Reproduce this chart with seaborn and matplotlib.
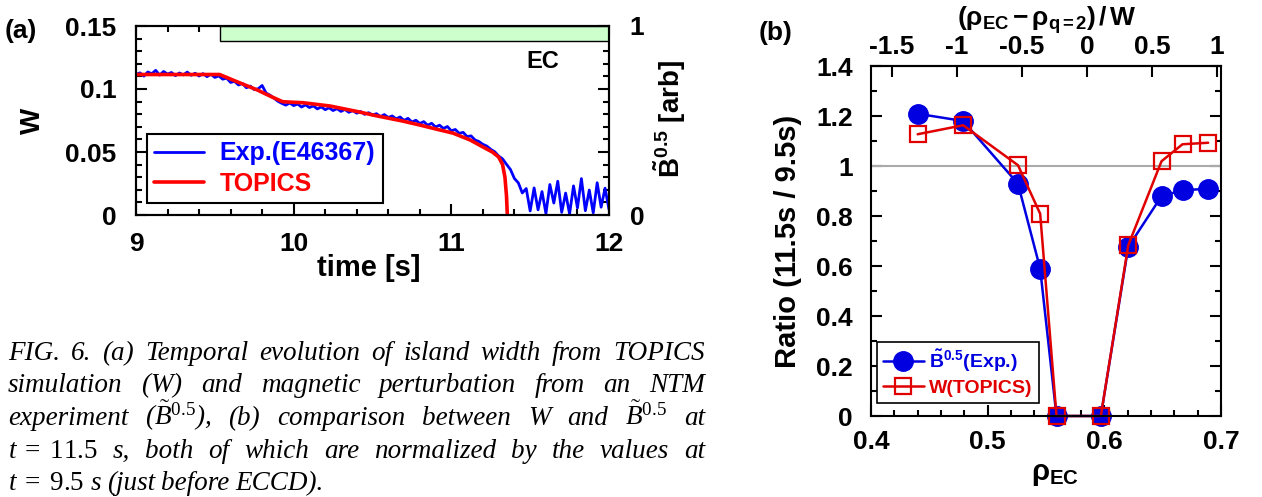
import numpy as np
import seaborn as sns
import matplotlib.pyplot as plt
from matplotlib.ticker import MultipleLocator, FuncFormatter

# --- (a) island width vs time
t_exp = [
    9.000, 9.025, 9.050, 9.075, 9.100, 9.125, 9.150, 9.175, 9.200, 9.225,
    9.250, 9.275, 9.300, 9.325, 9.350, 9.375, 9.400, 9.425, 9.450, 9.475,
    9.500, 9.525, 9.550, 9.575, 9.600, 9.625, 9.650, 9.675, 9.700, 9.725,
    9.750, 9.775, 9.800, 9.825, 9.850, 9.875, 9.900, 9.925, 9.950, 9.975,
    10.000, 10.025, 10.050, 10.075, 10.100, 10.125, 10.150, 10.175, 10.200, 10.225,
    10.250, 10.275, 10.300, 10.325, 10.350, 10.375, 10.400, 10.425, 10.450, 10.475,
    10.500, 10.525, 10.550, 10.575, 10.600, 10.625, 10.650, 10.675, 10.700, 10.725,
    10.750, 10.775, 10.800, 10.825, 10.850, 10.875, 10.900, 10.925, 10.950, 10.975,
    11.000, 11.025, 11.050, 11.075, 11.100, 11.125, 11.150, 11.175, 11.200, 11.225,
    11.250, 11.275, 11.300, 11.325, 11.350, 11.375, 11.400, 11.425, 11.450, 11.475,
    11.500, 11.525, 11.550, 11.575, 11.600, 11.625, 11.650, 11.675, 11.700, 11.725,
    11.750, 11.775, 11.800, 11.825, 11.850, 11.875, 11.900, 11.925, 11.950, 11.975,
    12.000]
w_exp = [
    0.1115, 0.1128, 0.1102, 0.1135, 0.1121, 0.1148, 0.1110, 0.1139, 0.1118, 0.1131,
    0.1106, 0.1127, 0.1112, 0.1134, 0.1109, 0.1125, 0.1103, 0.1122, 0.1098, 0.1117,
    0.1092, 0.1104, 0.1078, 0.1086, 0.1052, 0.1061, 0.1032, 0.1044, 0.1010, 0.1023,
    0.0995, 0.1002, 0.1028, 0.0968, 0.0951, 0.0927, 0.0903, 0.0886, 0.0872, 0.0889,
    0.0868, 0.0881, 0.0857, 0.0874, 0.0853, 0.0866, 0.0842, 0.0858, 0.0836, 0.0851,
    0.0829, 0.0844, 0.0822, 0.0838, 0.0815, 0.0829, 0.0808, 0.0821, 0.0799, 0.0812,
    0.0793, 0.0804, 0.0781, 0.0797, 0.0774, 0.0786, 0.0763, 0.0778, 0.0751, 0.0767,
    0.0738, 0.0752, 0.0726, 0.0741, 0.0712, 0.0728, 0.0698, 0.0713, 0.0687, 0.0702,
    0.0668, 0.0679, 0.0648, 0.0656, 0.0622, 0.0628, 0.0596, 0.0583, 0.0561, 0.0547,
    0.0521, 0.0502, 0.0468, 0.0445, 0.0402, 0.0361, 0.0290, 0.0255, 0.0175, 0.0210,
    0.0032, 0.0215, 0.0041, 0.0186, 0.0012, 0.0242, 0.0095, 0.0268, 0.0021, 0.0174,
    0.0008, 0.0231, 0.0056, 0.0289, 0.0034, 0.0198, 0.0017, 0.0256, 0.0062, 0.0213,
    0.0044]

t_topics = [9.00, 9.53, 9.64, 9.77, 9.85, 9.93, 10.06, 10.23, 10.40, 10.53, 10.69,
            10.80, 10.91, 11.01, 11.12, 11.20, 11.26, 11.30, 11.325, 11.34, 11.35, 11.355]
w_topics = [0.1115, 0.1115, 0.1058, 0.0992, 0.0944, 0.0899, 0.0891, 0.0865, 0.0822, 0.0786,
            0.0746, 0.0714, 0.0680, 0.0650, 0.0595, 0.0540, 0.0500, 0.0460, 0.0400, 0.0300,
            0.0150, 0.0]

ec_on = 9.53      # ECCD switched on
t_end = 12.0

# --- (b) ratio W(11.5s)/W(9.5s) vs EC deposition
rho_ec = [0.440, 0.479, 0.526, 0.545, 0.559, 0.597, 0.6205, 0.649, 0.667, 0.689]
ratio_exp = [1.209, 1.180, 0.929, 0.589, 0.0, 0.0, 0.676, 0.879, 0.903, 0.909]
ratio_topics = [1.127, 1.163, 1.003, 0.809, 0.0, 0.0, 0.683, 1.019, 1.087, 1.093]

rho_q2 = 0.585    # q=2 surface
w_island = 0.1114  # normalising width for top axis

caption = [
    "FIG. 6. (a) Temporal evolution of island width from TOPICS",
    r"simulation ($W$) and magnetic perturbation from an NTM",
    r"experiment ($\tilde{B}^{0.5}$), (b) comparison between W and $\tilde{B}^{0.5}$ at",
    r"$t\;=\;11.5$ s, both of which are normalized by the values at",
    r"$t\;=\;9.5$ s (just before ECCD).",
]

sns.set_style("ticks")
plt.rcParams["font.family"] = ["Liberation Sans", "DejaVu Sans"]
plt.rcParams["font.weight"] = "bold"
plt.rcParams["axes.labelweight"] = "bold"
plt.rcParams["axes.unicode_minus"] = False
plt.rcParams["mathtext.fontset"] = "custom"
plt.rcParams["mathtext.rm"] = "Liberation Serif:weight=normal"
plt.rcParams["mathtext.it"] = "Liberation Serif:style=italic:weight=normal"
plt.rcParams["mathtext.bf"] = "Liberation Sans:weight=bold"
for k in ["text.color", "axes.labelcolor", "xtick.color", "ytick.color", "axes.edgecolor"]:
    plt.rcParams[k] = "black"
plt.rcParams["axes.linewidth"] = 1.5

W, H = 1262, 497
fig = plt.figure(figsize=(W / 100, H / 100), dpi=100)
gfmt = FuncFormatter(lambda v, p: f"{v:g}")

blue_a, red_a = "#0000ff", "#ff0000"
blue_b, red_b = "#0000e0", "#e00000"

# ---------------- panel (a)
ax_a = fig.add_axes([136 / W, 1 - 215 / H, 473 / W, 189 / H])
ax_a.axvspan(ec_on, t_end, ymin=0.92, ymax=1.0, facecolor="#ccffcc",
             edgecolor="black", lw=1)
sns.lineplot(x=t_exp, y=w_exp, ax=ax_a, color=blue_a, lw=2.0,
             label="Exp.(E46367)", errorbar=None)
sns.lineplot(x=t_topics, y=w_topics, ax=ax_a, color=red_a, lw=2.6,
             label="TOPICS", errorbar=None)
ax_a.set_xlim(9, 12)
ax_a.set_ylim(0, 0.15)
ax_a.xaxis.set_major_locator(MultipleLocator(1))
ax_a.xaxis.set_minor_locator(MultipleLocator(0.2))
ax_a.yaxis.set_major_locator(MultipleLocator(0.05))
ax_a.yaxis.set_minor_locator(MultipleLocator(0.01))
ax_a.xaxis.set_major_formatter(gfmt)
ax_a.yaxis.set_major_formatter(gfmt)
ax_a.set_xlabel("time [s]", fontsize=21)
ax_a.set_ylabel("W", fontsize=20)
ax_a.xaxis.set_label_coords(0.493, -0.205)
ax_a.yaxis.set_label_coords(-0.19, 0.5)
ax_a.text(0.86, 0.81, "EC", transform=ax_a.transAxes, fontsize=17,
          ha="center", va="center")

leg = ax_a.legend(loc="lower left", bbox_to_anchor=(0.023, 0.063), borderaxespad=0,
                  fontsize=18, fancybox=False, edgecolor="black", framealpha=1,
                  handlelength=2.0, handletextpad=0.6, labelcolor="linecolor",
                  borderpad=0.3, labelspacing=0.25)
leg.get_frame().set_linewidth(1.5)

ax_r = ax_a.twinx()
ax_r.set_ylim(0, 1)
ax_r.set_yticks([0, 1])
ax_r.yaxis.set_major_formatter(gfmt)
ax_r.tick_params(axis="y", length=0, pad=15, labelsize=19)
ax_r.set_ylabel(r"$\mathbf{\tilde{B}^{0.5}}$ [arb]", fontsize=20)
ax_r.yaxis.set_label_coords(1.09, 0.51)

ax_a.tick_params(which="both", direction="in", top=True, right=True, width=1.5)
ax_a.tick_params(which="major", length=8, labelsize=19)
ax_a.tick_params(which="minor", length=4)
ax_a.tick_params(axis="x", pad=12)
ax_a.tick_params(axis="y", pad=14)

# ---------------- panel (b)
ax_b = fig.add_axes([871 / W, 1 - 416 / H, 350 / W, 350 / H])
ax_b.axhline(1, color="#aaaaaa", lw=1.5, zorder=1)
sns.lineplot(x=rho_ec, y=ratio_exp, ax=ax_b, color=blue_b, lw=1.8, marker="o",
             markersize=14, markerfacecolor=blue_b, markeredgecolor=blue_b,
             markeredgewidth=1, label=r"$\mathbf{\tilde{B}^{0.5}}$(Exp.)",
             errorbar=None, clip_on=False)
sns.lineplot(x=rho_ec, y=ratio_topics, ax=ax_b, color=red_b, lw=1.8, marker="s",
             markersize=12, markerfacecolor="none", markeredgecolor=red_b,
             markeredgewidth=1.6, label="W(TOPICS)", errorbar=None, clip_on=False)
ax_b.set_xlim(0.4, 0.7)
ax_b.set_ylim(0, 1.4)
ax_b.xaxis.set_major_locator(MultipleLocator(0.1))
ax_b.xaxis.set_minor_locator(MultipleLocator(0.02))
ax_b.yaxis.set_major_locator(MultipleLocator(0.2))
ax_b.yaxis.set_minor_locator(MultipleLocator(0.1))
ax_b.xaxis.set_major_formatter(gfmt)
ax_b.yaxis.set_major_formatter(gfmt)
ax_b.tick_params(which="both", direction="in", top=False, right=True, width=1.5)
ax_b.tick_params(which="major", length=8, labelsize=19)
ax_b.tick_params(which="minor", length=4)
ax_b.tick_params(axis="x", pad=10)
ax_b.tick_params(axis="y", pad=13)
ax_b.set_xlabel(r"$\mathbf{\rho_{EC}}$", fontsize=21)
ax_b.set_ylabel("Ratio (11.5s / 9.5s)", fontsize=21)
ax_b.xaxis.set_label_coords(0.526, -0.125)
ax_b.yaxis.set_label_coords(-0.197, 0.498)

sec = ax_b.secondary_xaxis(
    "top",
    functions=(lambda r: (np.asarray(r) - rho_q2) / w_island,
               lambda s: np.asarray(s) * w_island + rho_q2))
sec.set_xticks([-1.5, -1, -0.5, 0, 0.5, 1])
sec.xaxis.set_major_formatter(gfmt)
sec.tick_params(direction="in", length=8, width=1.5, labelsize=19, pad=5)
sec.set_xlabel(r"$\mathbf{(\rho_{EC}-\rho_{q{=}2})\,/\,W}$", fontsize=19, labelpad=7)

leg_b = ax_b.legend(loc="lower left", bbox_to_anchor=(0.017, 0.037), borderaxespad=0,
                    fontsize=14, fancybox=False, edgecolor="black", framealpha=1,
                    handlelength=2.1, handletextpad=0.3, labelcolor="linecolor",
                    borderpad=0.3, labelspacing=0.3)
leg_b.get_frame().set_linewidth(1.2)

fig.text(21 / W, 1 - 31 / H, "(a)", fontsize=19, ha="center", va="center")
fig.text(776 / W, 1 - 33 / H, "(b)", fontsize=19, ha="center", va="center")

# ---------------- caption, justified
cap_kw = dict(family=["Liberation Serif", "DejaVu Serif"], style="italic",
              weight="normal", fontsize=19.5, va="baseline", ha="left")
renderer = fig.canvas.get_renderer()
x0, x1 = 8, 705
for i, line in enumerate(caption):
    y = 1 - (360 + 32.5 * i) / H
    words = line.split(" ")
    texts = [fig.text(0, y, w, **cap_kw) for w in words]
    widths = [t.get_window_extent(renderer).width for t in texts]
    if i < len(caption) - 1:
        gap = (x1 - x0 - sum(widths)) / (len(words) - 1)
    else:
        gap = 6
    x = x0
    for t, wd in zip(texts, widths):
        t.set_x(x / W)
        x += wd + gap

fig.savefig("out.png", dpi=100)
